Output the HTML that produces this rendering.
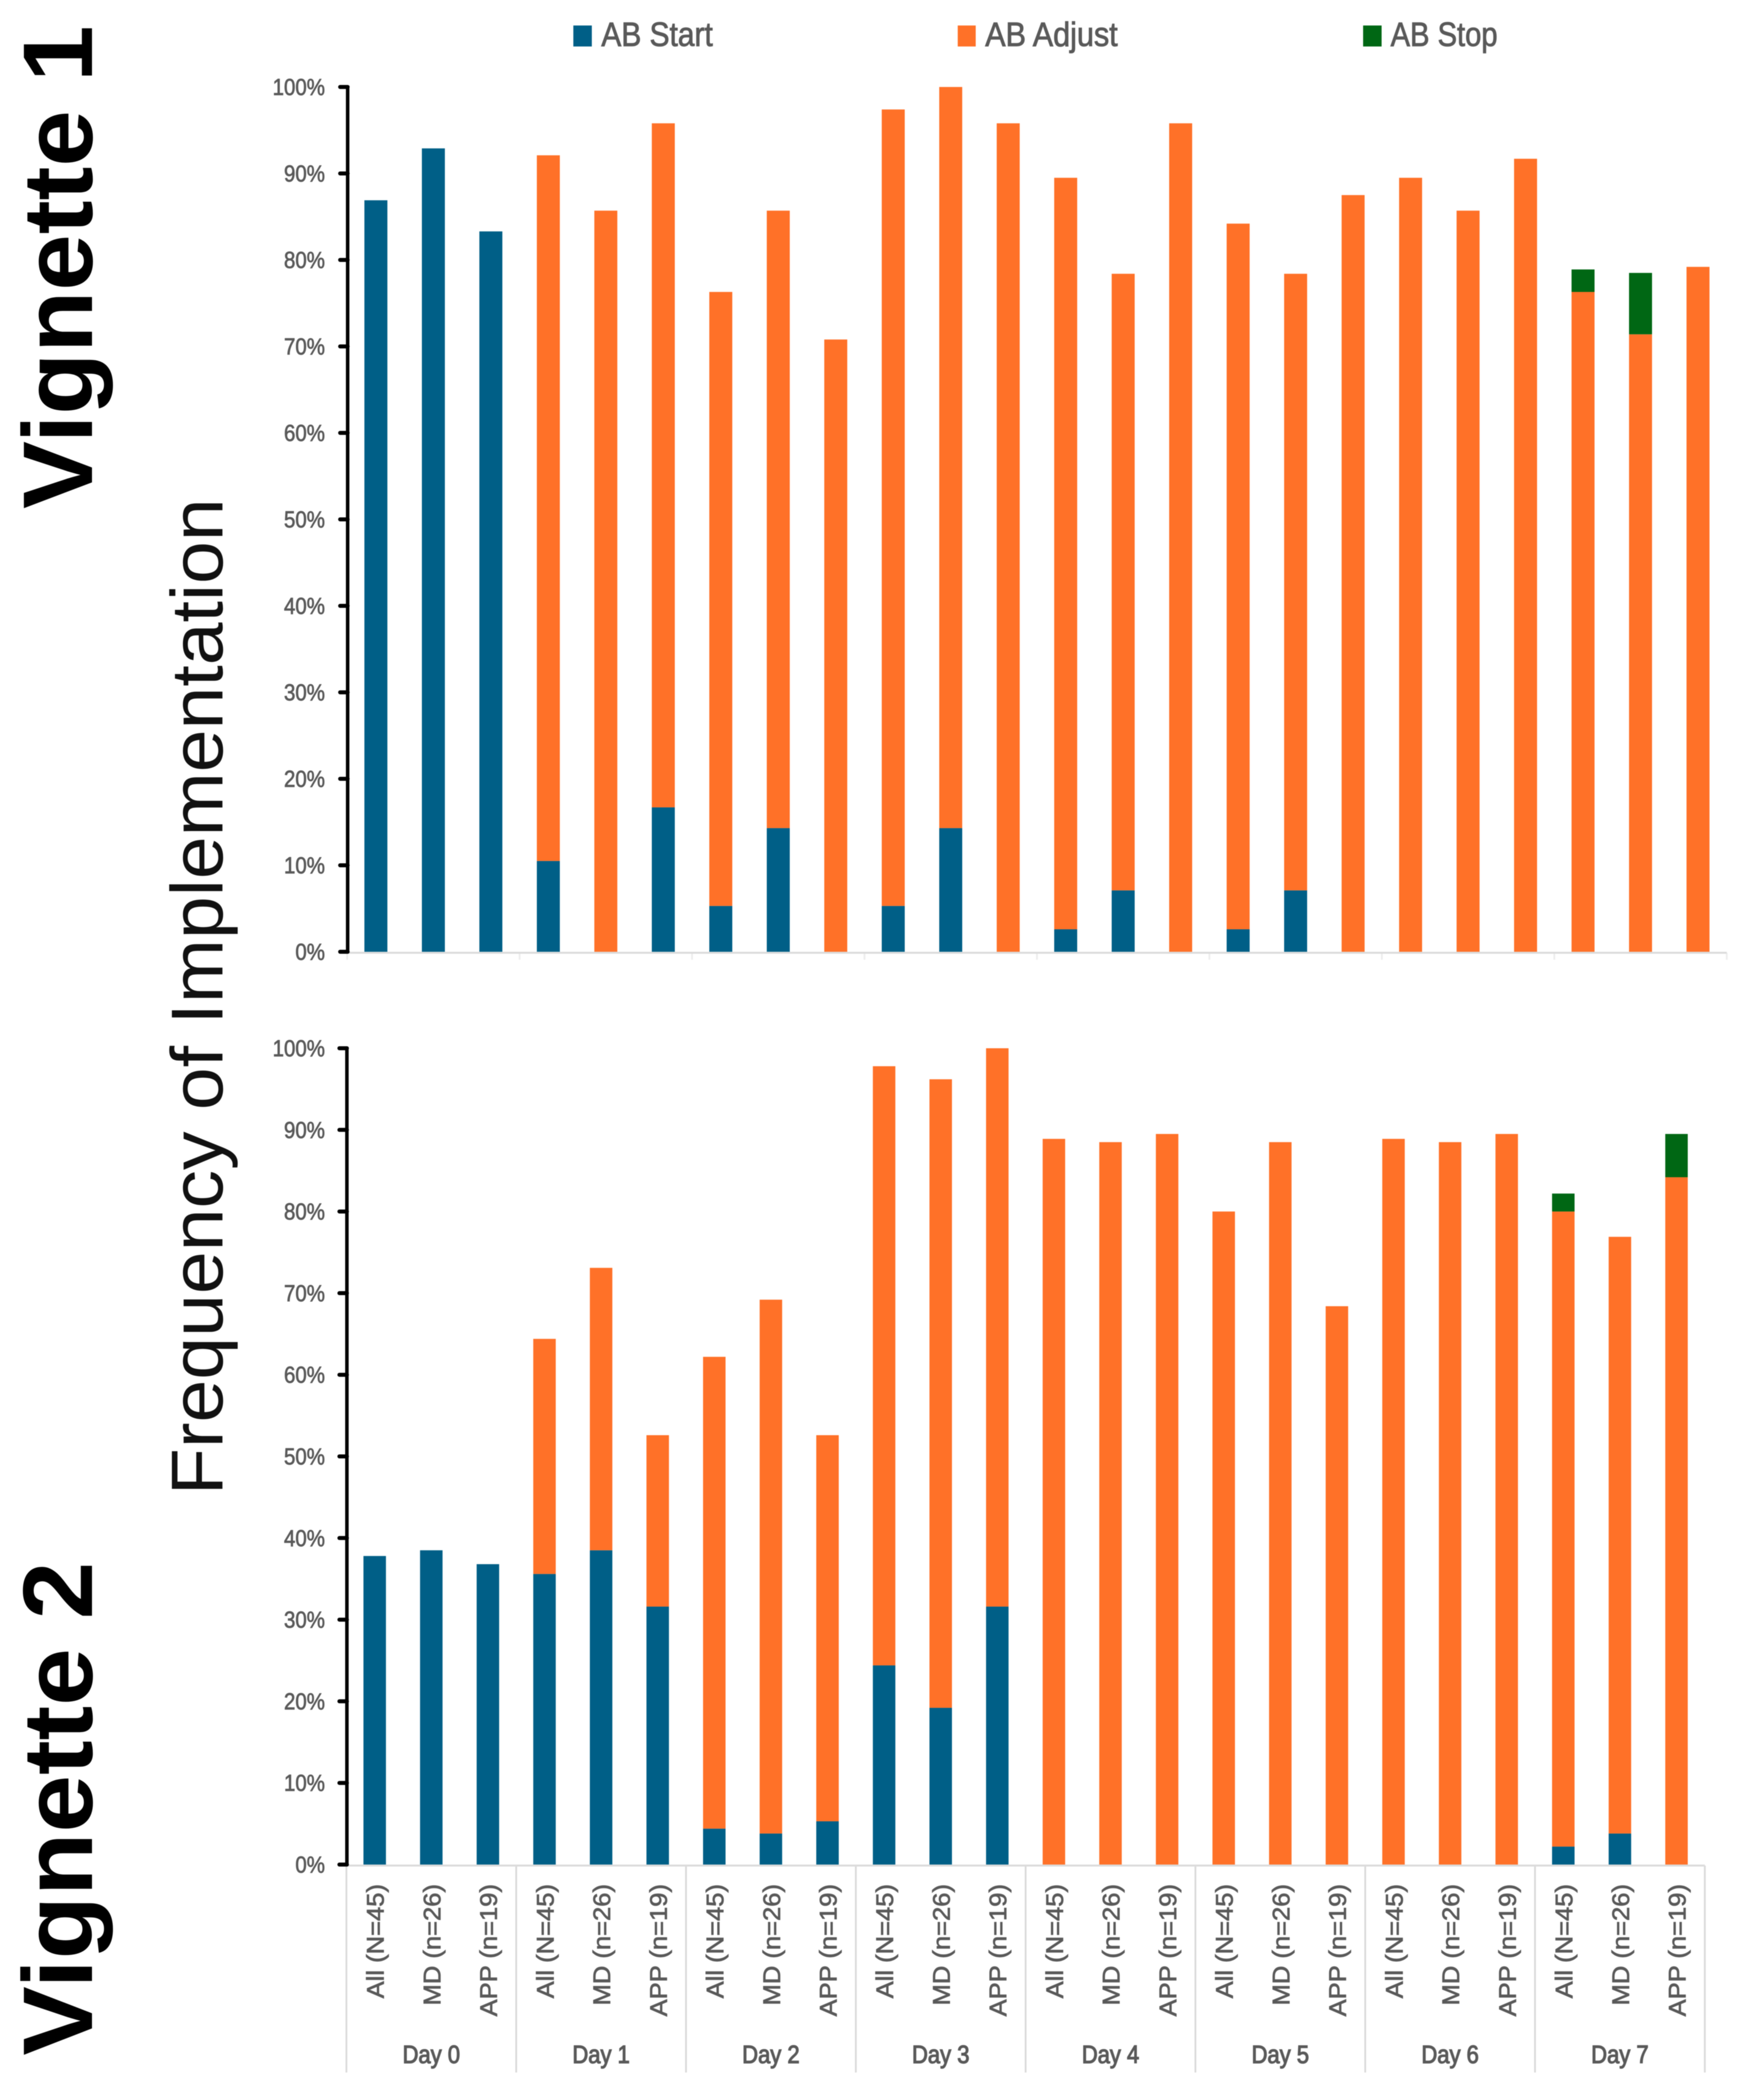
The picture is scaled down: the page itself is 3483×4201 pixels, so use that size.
<!DOCTYPE html>
<html lang="en">
<head>
<meta charset="utf-8">
<title>Frequency of Implementation by Vignette</title>
<style>
html,body{margin:0;padding:0;background:#fff;}
svg{display:block;filter:blur(0.8px);}
text{font-family:"Liberation Sans",sans-serif;}
</style>
</head>
<body>
<svg id="figure" xmlns="http://www.w3.org/2000/svg" width="3483" height="4201" viewBox="0 0 3483 4201">
  <rect x="0" y="0" width="3483" height="4201" fill="#ffffff"/>

  <text transform="translate(184,1018) rotate(-90)" font-size="198" font-weight="700" fill="#000" textLength="967" lengthAdjust="spacingAndGlyphs">Vignette 1</text>
  <text transform="translate(184,4112) rotate(-90)" font-size="198" font-weight="700" fill="#000" textLength="988" lengthAdjust="spacingAndGlyphs">Vignette 2</text>
  <text transform="translate(445,2991) rotate(-90)" font-size="147" fill="#111" textLength="1994" lengthAdjust="spacingAndGlyphs">Frequency of Implementation</text>

  <g>
    <g>
      <rect x="1147" y="51" width="37" height="42" fill="#005F87"/>
      <text x="1203" y="92" font-size="68" fill="#595959" stroke="#595959" stroke-width="1.5" textLength="223" lengthAdjust="spacingAndGlyphs">AB Start</text>
    </g>
    <g>
      <rect x="1916" y="51" width="36" height="42" fill="#FF7128"/>
      <text x="1971" y="92" font-size="68" fill="#595959" stroke="#595959" stroke-width="1.5" textLength="265" lengthAdjust="spacingAndGlyphs">AB Adjust</text>
    </g>
    <g>
      <rect x="2727" y="51" width="37" height="42" fill="#006714"/>
      <text x="2782" y="92" font-size="68" fill="#595959" stroke="#595959" stroke-width="1.5" textLength="214" lengthAdjust="spacingAndGlyphs">AB Stop</text>
    </g>
  </g>
</svg>

<script>
var days = ['Day 0','Day 1','Day 2','Day 3','Day 4','Day 5','Day 6','Day 7'];
var groups = ['All (N=45)','MD (n=26)','APP (n=19)'];
var yTicks = [0,10,20,30,40,50,60,70,80,90,100];

var v1Start  = [86.9,92.9,83.3, 10.5,0,16.7, 5.3,14.3,0, 5.3,14.3,0, 2.6,7.1,0, 2.6,7.1,0, 0,0,0, 0,0,0];
var v1Adjust = [0,0,0, 81.6,85.7,79.1, 71.0,71.4,70.8, 92.1,85.7,95.8, 86.9,71.3,95.8, 81.6,71.3,87.5, 89.5,85.7,91.7, 76.3,71.4,79.2];
var v1Stop   = [0,0,0, 0,0,0, 0,0,0, 0,0,0, 0,0,0, 0,0,0, 0,0,0, 2.6,7.1,0];

var v2Start  = [37.8,38.5,36.8, 35.6,38.5,31.6, 4.4,3.8,5.3, 24.4,19.2,31.6, 0,0,0, 0,0,0, 0,0,0, 2.2,3.8,0];
var v2Adjust = [0,0,0, 28.8,34.6,21.0, 57.8,65.4,47.3, 73.4,77.0,68.4, 88.9,88.5,89.5, 80.0,88.5,68.4, 88.9,88.5,89.5, 77.8,73.1,84.2];
var v2Stop   = [0,0,0, 0,0,0, 0,0,0, 0,0,0, 0,0,0, 0,0,0, 0,0,0, 2.2,0,5.3];

var NS = 'http://www.w3.org/2000/svg';
var svg = document.getElementById('figure');

function make(parent, tag, attrs) {
  var el = document.createElementNS(NS, tag);
  for (var k in attrs) { el.setAttribute(k, attrs[k]); }
  parent.appendChild(el);
  return el;
}

function drawChart(id, cfg, start, adjust, stop) {
  var g = make(svg, 'g', {});
  
  

  function yPos(v) { return cfg.y0 + (cfg.y100 - cfg.y0) * v / 100; }
  function xGroup(i) { return cfg.x0 + cfg.groupW * i; }
  function xBar(i) { return cfg.x0 + (cfg.groupW / groups.length) * (i + 0.5); }

  // category separators
  for (var s = 0; s <= days.length; s++) {
    var sep = make(g, 'line', {x1: xGroup(s), x2: xGroup(s), y1: cfg.y0 + 2, y2: cfg.sepEnd, stroke: cfg.sepColor, 'stroke-width': 3.5});
    
    
  }

  // baseline
  var base = make(g, 'line', {x1: cfg.x0, x2: xGroup(days.length), y1: cfg.y0 + 2, y2: cfg.y0 + 2, stroke: '#dcdcdc', 'stroke-width': 4});
  
  

  // bars
  for (var i = 0; i < start.length; i++) {
    var x = xBar(i) - cfg.barW / 2;
    var cum = 0;
    if (start[i] > 0) {
      var r1 = make(g, 'rect', {x: x, y: yPos(cum + start[i]), width: cfg.barW, height: yPos(cum) - yPos(cum + start[i]), fill: '#005F87'});
      
      
      cum += start[i];
    }
    if (adjust[i] > 0) {
      var r2 = make(g, 'rect', {x: x, y: yPos(cum + adjust[i]), width: cfg.barW, height: yPos(cum) - yPos(cum + adjust[i]), fill: '#FF7128'});
      
      
      cum += adjust[i];
    }
    if (stop[i] > 0) {
      var r3 = make(g, 'rect', {x: x, y: yPos(cum + stop[i]), width: cfg.barW, height: yPos(cum) - yPos(cum + stop[i]), fill: '#006714'});
      
      
      cum += stop[i];
    }
  }

  // y axis
  var axis = make(g, 'line', {x1: cfg.x0 + 1, x2: cfg.x0 + 1, y1: yPos(100), y2: yPos(0), stroke: '#000', 'stroke-width': 7, 'stroke-linecap': 'round'});
  
  

  yTicks.forEach(function (t) {
    var tick = make(g, 'line', {x1: cfg.x0 - 14, x2: cfg.x0 + 1, y1: yPos(t), y2: yPos(t), stroke: '#000', 'stroke-width': 8, 'stroke-linecap': 'round'});
    
    
    var lab = make(g, 'text', {transform: 'translate(650,' + (yPos(t) + 16) + ') scale(0.89,1)', 'text-anchor': 'end', 'font-size': 46, fill: '#5a5a5a', stroke: '#5a5a5a', 'stroke-width': 1.2});
    lab.textContent = t + '%';
    
    
  });

  // category labels
  if (cfg.showLabels) {
    for (var c = 0; c < start.length; c++) {
      var cl = make(g, 'text', {transform: 'translate(' + (xBar(c) + 18) + ',3769) rotate(-90) scale(1.065,1)', 'text-anchor': 'end', 'font-size': 48, fill: '#595959', stroke: '#595959', 'stroke-width': 1.2});
      cl.textContent = groups[c % groups.length];
      
      
    }
    for (var d = 0; d < days.length; d++) {
      var dl = make(g, 'text', {transform: 'translate(' + (xGroup(d) + cfg.groupW / 2) + ',4127) scale(0.88,1)', 'text-anchor': 'middle', 'font-size': 50, fill: '#595959', stroke: '#595959', 'stroke-width': 2});
      dl.textContent = days[d];
      
      
    }
  }
}

drawChart('vignette-1', {x0: 694.5, groupW: 345, y0: 1904, y100: 174, barW: 46, sepEnd: 1920, sepColor: '#ededed', showLabels: false}, v1Start, v1Adjust, v1Stop);
drawChart('vignette-2', {x0: 693, groupW: 339.7, y0: 3730, y100: 2097, barW: 45, sepEnd: 4146, sepColor: '#d9d9d9', showLabels: true}, v2Start, v2Adjust, v2Stop);
</script>
</body>
</html>
